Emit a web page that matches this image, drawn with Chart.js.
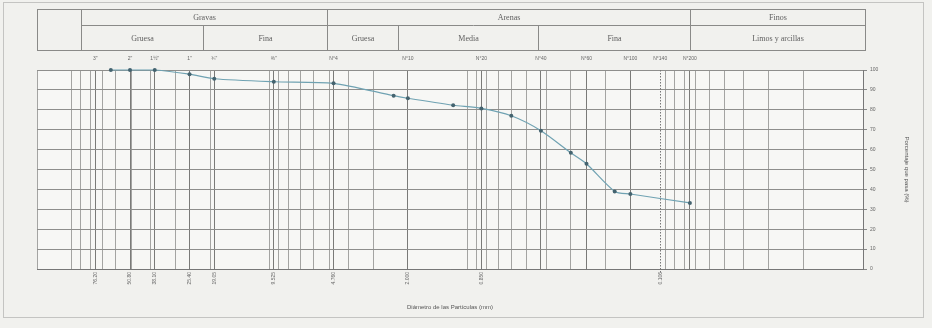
<!DOCTYPE html>
<html>
<head>
<meta charset="utf-8">
<script src="https://cdn.jsdelivr.net/npm/chart.js@4.4.1/dist/chart.umd.min.js"></script>
<style>
  html, body { margin: 0; padding: 0; background: #f1f1ee; }
  canvas { display: block; }
</style>
</head>
<body>
<canvas id="curve" width="932" height="328"></canvas>
<script>
// Sieve openings (mm) and cumulative percentage passing
const sieveSizes = [63.5, 50.8, 38.1, 25.4, 19.05, 9.525, 4.75, 2.36, 2.0, 1.18, 0.85, 0.6, 0.425, 0.3, 0.25, 0.18, 0.15, 0.075];
const percentPassing = [100, 100, 100, 97.9, 95.6, 94.1, 93.3, 87.1, 85.8, 82.3, 80.7, 77.0, 69.5, 58.4, 52.9, 39.0, 37.7, 33.2];

// Standard sieves named along the top edge
const namedSieveSizes = [76.2, 50.8, 38.1, 25.4, 19.05, 9.525, 4.75, 2.0, 0.85, 0.425, 0.25, 0.15, 0.106, 0.075];
const namedSieveLabels = ['3"', '2"', '1½"', '1"', '¾"', '⅜"', 'N°4', 'N°10', 'N°20', 'N°40', 'N°60', 'N°100', 'N°140', 'N°200'];

// Openings written under the bottom axis
const bottomTickValues = [76.2, 50.8, 38.1, 25.4, 19.05, 9.525, 4.75, 2.0, 0.85, 0.106];
const bottomTickLabels = ['76.20', '50.80', '38.10', '25.40', '19.05', '9.525', '4.760', '2.000', '0.850', '0.106'];

// Percentage axis
const percentTicks = [0, 10, 20, 30, 40, 50, 60, 70, 80, 90, 100];

// Soil classification header
const headerGroups = ['Gravas', 'Arenas', 'Finos'];
const headerSubGroups = ['Gruesa', 'Fina', 'Gruesa', 'Media', 'Fina', 'Limos y arcillas'];
// column edges of the header table (px): label cell, then each sub-group
const headerEdges = [37, 81, 203, 327, 398, 538, 690, 865];
// which edges bound each group (indices into headerEdges)
const headerGroupSpans = [[1, 3], [3, 6], [6, 7]];

const X_MIN = 0.01, X_MAX = 150;
const DOTTED_SIZE = 0.106;

// Log-paper rulings (1..9 x 10^n) plus every named sieve
const near = (a, b) => Math.abs(a - b) <= 1e-6 * Math.max(a, b);
const gridValues = [];
const addGrid = v => { if (!gridValues.some(g => near(g, v))) gridValues.push(v); };
for (let e = -2; e <= 2; e++) {
  for (let k = 1; k <= 9; k++) {
    const v = +(k * Math.pow(10, e)).toPrecision(6);
    if (v >= X_MIN && v <= X_MAX) addGrid(v);
  }
}
addGrid(X_MAX);
namedSieveSizes.forEach(addGrid);

const isSieve = v => namedSieveSizes.some(s => near(s, v));

const paperPlugin = {
  id: 'paper',
  beforeDraw(chart) {
    const c = chart.ctx;
    c.save();
    c.fillStyle = '#f1f1ee';
    c.fillRect(0, 0, chart.width, chart.height);
    const a = chart.chartArea;
    c.fillStyle = '#f7f7f5';
    c.fillRect(a.left, a.top, a.right - a.left, a.bottom - a.top);
    c.restore();
  },
  afterDraw(chart) {
    const c = chart.ctx;
    const x = chart.scales.x;
    const a = chart.chartArea;
    c.save();

    // page frame
    c.strokeStyle = '#c4c4c2';
    c.lineWidth = 1;
    c.strokeRect(3.5, 2.5, 920, 315);

    // dotted ruling
    const xd = Math.round(x.getPixelForValue(DOTTED_SIZE)) + 0.5;
    c.strokeStyle = '#777';
    c.setLineDash([1.5, 1.5]);
    c.beginPath();
    c.moveTo(xd, a.top);
    c.lineTo(xd, a.bottom + 4);
    c.stroke();
    c.setLineDash([]);

    // classification header
    const top = 9.5, mid = 25.5, bot = 50.5;
    const e = headerEdges.map(v => v + 0.5);
    c.strokeStyle = '#8a8a88';
    c.lineWidth = 1;
    c.strokeRect(e[0], top, e[e.length - 1] - e[0], bot - top);
    c.beginPath();
    c.moveTo(e[1], mid); c.lineTo(e[e.length - 1], mid);
    headerGroupSpans.forEach(s => { c.moveTo(e[s[0]], top); c.lineTo(e[s[0]], bot); });
    for (let i = 1; i < e.length - 1; i++) { c.moveTo(e[i], mid); c.lineTo(e[i], bot); }
    c.stroke();

    c.fillStyle = '#606060';
    c.font = '8px "Liberation Serif"';
    c.textAlign = 'center';
    c.textBaseline = 'middle';
    headerGroups.forEach((g, i) => {
      const s = headerGroupSpans[i];
      c.fillText(g, (e[s[0]] + e[s[1]]) / 2, (top + mid) / 2 + 0.5);
    });
    headerSubGroups.forEach((g, i) => c.fillText(g, (e[i + 1] + e[i + 2]) / 2, (mid + bot) / 2 + 0.5));
    c.restore();
  }
};

new Chart(document.getElementById('curve'), {
  type: 'line',
  data: {
    datasets: [{
      data: sieveSizes.map((s, i) => ({ x: s, y: percentPassing[i] })),
      borderColor: '#6fa2b2',
      borderWidth: 1.2,
      pointRadius: 2,
      pointBackgroundColor: '#44636f',
      pointBorderColor: '#44636f',
      pointBorderWidth: 0,
      tension: 0.25,
      clip: false
    }]
  },
  options: {
    responsive: false,
    animation: false,
    devicePixelRatio: 1,
    layout: { padding: { left: 37, right: 22, top: 0, bottom: 17 } },
    plugins: { legend: { display: false }, tooltip: { enabled: false } },
    scales: {
      x: {
        type: 'logarithmic',
        position: 'bottom',
        reverse: true,
        min: X_MIN,
        max: X_MAX,
        afterBuildTicks: s => { s.ticks = gridValues.map(v => ({ value: v })); },
        afterFit: s => { s.height = 42; },
        grid: {
          drawTicks: false,
          lineWidth: 1,
          color: ctx => {
            const v = ctx.tick ? ctx.tick.value : 0;
            if (near(v, DOTTED_SIZE)) return 'rgba(0,0,0,0)';
            return isSieve(v) ? '#7a7a78' : '#a4a4a2';
          }
        },
        border: { color: '#777' },
        ticks: {
          autoSkip: false,
          minRotation: 90,
          maxRotation: 90,
          padding: 3,
          color: '#666',
          font: { family: 'Liberation Sans', size: 5 },
          callback: v => {
            const i = bottomTickValues.findIndex(t => near(t, v));
            return i >= 0 ? bottomTickLabels[i] : '';
          }
        },
        title: {
          display: true,
          text: 'Diámetro de las Partículas (mm)',
          color: '#555',
          font: { family: 'Liberation Sans', size: 6 },
          padding: { top: 0, bottom: 0 }
        }
      },
      xTop: {
        type: 'logarithmic',
        position: 'top',
        reverse: true,
        min: X_MIN,
        max: X_MAX,
        afterBuildTicks: s => { s.ticks = namedSieveSizes.map(v => ({ value: v })); },
        afterFit: s => { s.height = 70; },
        grid: { display: false, drawTicks: false },
        border: { display: false },
        ticks: {
          autoSkip: false,
          maxRotation: 0,
          padding: 8,
          color: '#666',
          font: { family: 'Liberation Sans', size: 5 },
          callback: v => {
            const i = namedSieveSizes.findIndex(t => near(t, v));
            return i >= 0 ? namedSieveLabels[i] : '';
          }
        }
      },
      y: {
        position: 'right',
        min: 0,
        max: 100,
        afterBuildTicks: s => { s.ticks = percentTicks.map(v => ({ value: v })); },
        afterFit: s => { s.width = 47; },
        grid: { color: '#8e8e8c', lineWidth: 1, drawTicks: true, tickLength: 4, tickColor: '#888' },
        border: { color: '#777' },
        ticks: {
          padding: 3,
          color: '#666',
          font: { family: 'Liberation Sans', size: 5 }
        },
        title: {
          display: true,
          text: 'Porcentaje que pasa (%)',
          color: '#555',
          font: { family: 'Liberation Sans', size: 6 },
          padding: { top: 0, bottom: 0 }
        }
      }
    }
  },
  plugins: [paperPlugin]
});
</script>
</body>
</html>
